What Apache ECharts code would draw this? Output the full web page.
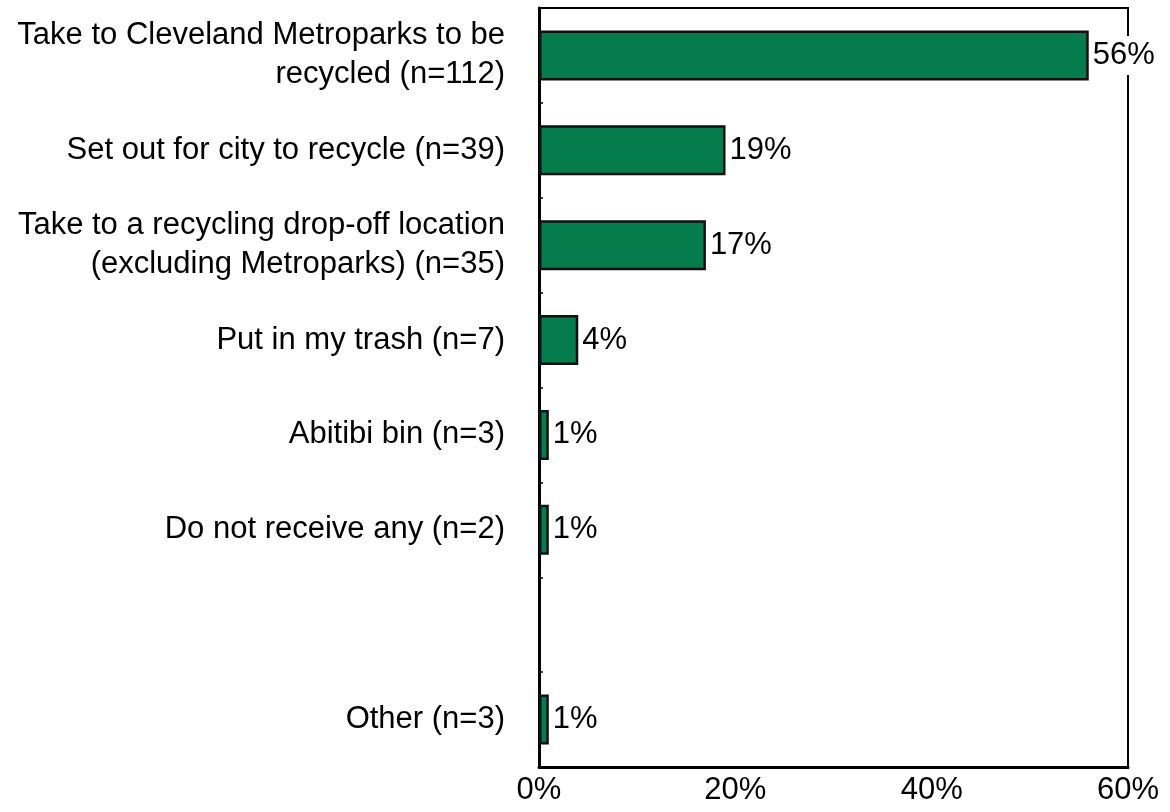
<!DOCTYPE html>
<html>
<head>
<meta charset="utf-8">
<script src="https://cdn.jsdelivr.net/npm/echarts@6/dist/echarts.min.js"></script>
<style>html,body{margin:0;padding:0;background:#fff;}#chart{width:1170px;height:812px;}</style>
</head>
<body>
<div id="chart"></div>
<script>
const categories = [
  "Take to Cleveland Metroparks to be\nrecycled (n=112)",
  "Set out for city to recycle (n=39)",
  "Take to a recycling drop-off location\n(excluding Metroparks) (n=35)",
  "Put in my trash (n=7)",
  "Abitibi bin (n=3)",
  "Do not receive any (n=2)",
  "",
  "Other (n=3)"
];
const values = [56, 19, 17, 4, 1, 1, null, 1];
const labels = ["56%", "19%", "17%", "4%", "1%", "1%", "", "1%"];
const xTicks = [0, 20, 40, 60];

const chart = echarts.init(document.getElementById('chart'));
const font = 'Liberation Sans, Arial, sans-serif';
chart.setOption({
  animation: false,
  backgroundColor: '#fff',
  grid: { left: 539, right: 42, top: 8, bottom: 45, show: true, borderColor: '#000', borderWidth: 2, backgroundColor: 'transparent' },
  xAxis: {
    type: 'value', min: xTicks[0], max: xTicks[xTicks.length - 1], interval: 20,
    axisLine: { show: true, lineStyle: { color: '#000', width: 3 } },
    axisTick: { show: false },
    splitLine: { show: false },
    axisLabel: { formatter: v => v + '%', color: '#000', fontFamily: font, fontSize: 31, margin: 8 }
  },
  yAxis: {
    type: 'category', data: categories, inverse: true,
    axisLine: { show: true, lineStyle: { color: '#000', width: 3 } },
    axisTick: { show: true, inside: true, length: 4, lineStyle: { color: '#000', width: 1.5 } },
    axisLabel: { color: '#000', fontFamily: font, fontSize: 31, lineHeight: 39, margin: 34, align: 'right' }
  },
  series: [{
    type: 'bar',
    data: values.map(v => v === null ? '-' : v),
    barWidth: 50,
    itemStyle: { color: '#057C4B', borderColor: '#111', borderWidth: 2.5 },
    label: {
      show: true, position: 'right', distance: 3,
      formatter: p => labels[p.dataIndex],
      color: '#000', fontFamily: font, fontSize: 31,
      backgroundColor: '#fff', padding: [4, 1, 4, 1]
    }
  }]
});
</script>
</body>
</html>
